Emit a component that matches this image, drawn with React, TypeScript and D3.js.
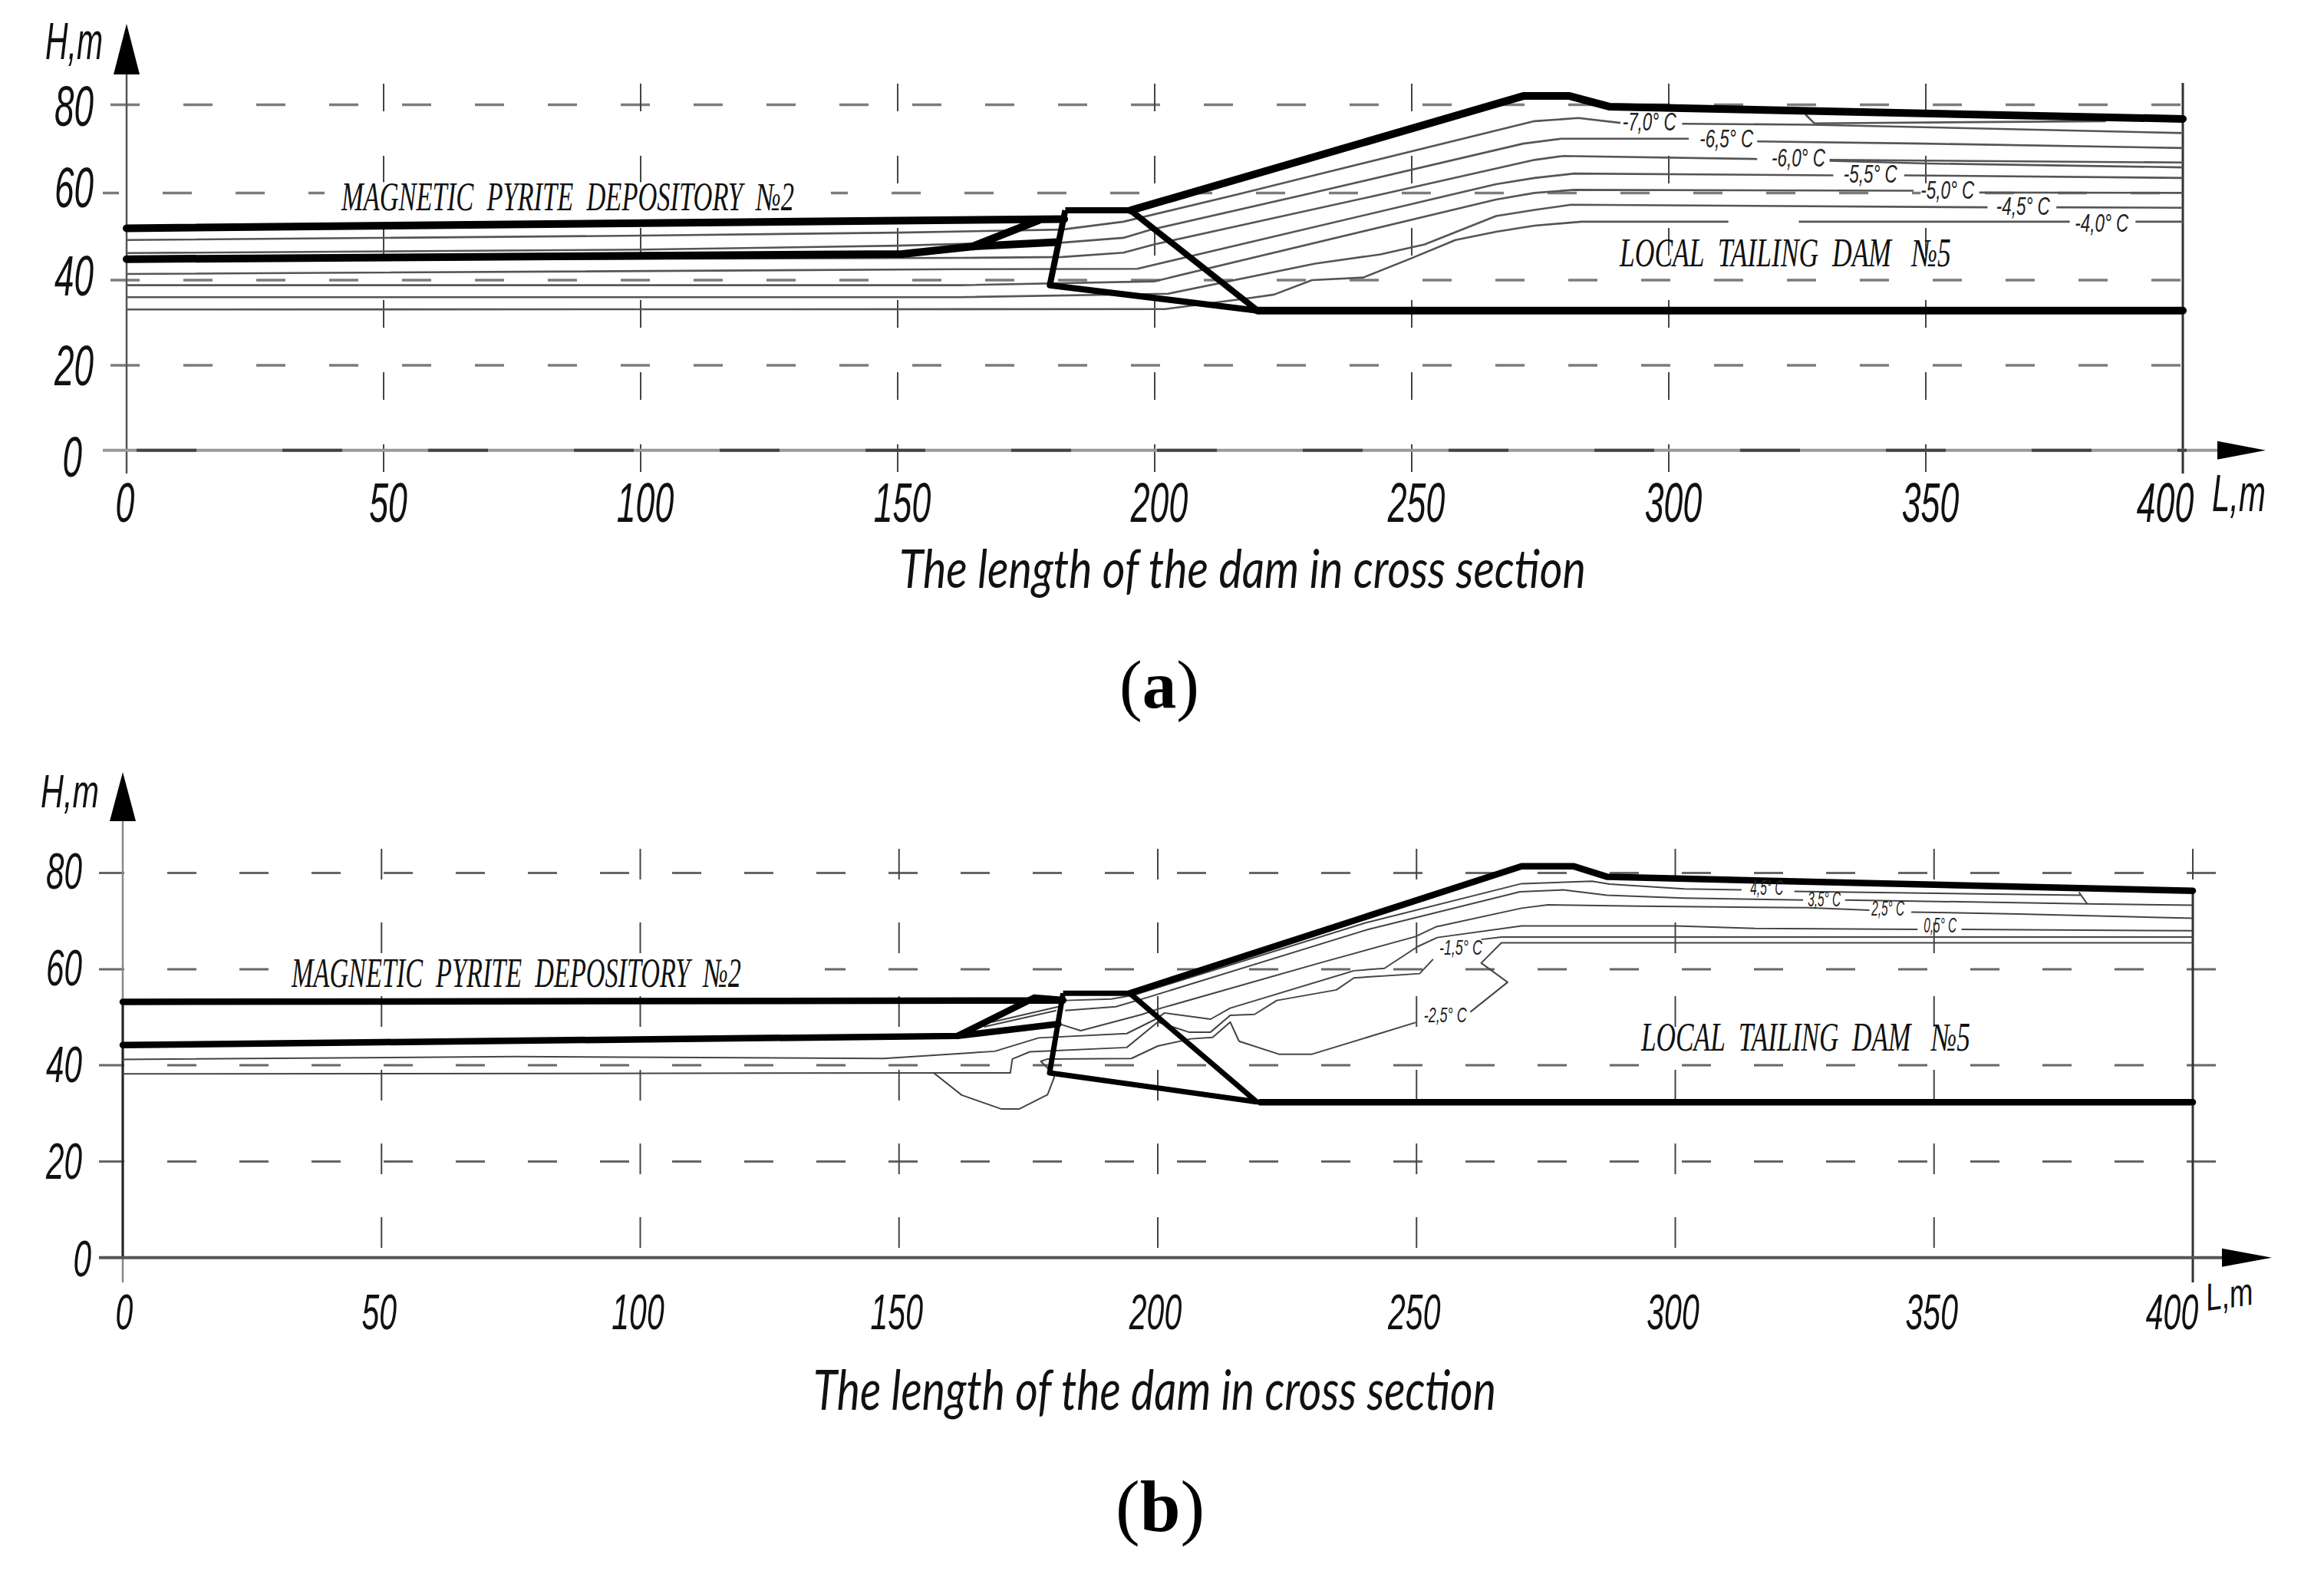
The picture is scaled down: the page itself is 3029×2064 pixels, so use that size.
import { useEffect, useRef } from 'react';
import * as d3 from 'd3';

type Pt = [number, number] | null;

const lengthTicks = [0, 50, 100, 150, 200, 250, 300, 350, 400];
const heightTicks = [0, 20, 40, 60, 80];

// ---- panel (a) ----
const outlineA: Pt[][] = [
  [[0, 51.9], [182.4, 54]],
  [[0, 44.8], [150.9, 46], [164.5, 47.7], [177.4, 53.7]],
  [[164.5, 47.7], [181, 48.7]],
  [[195.3, 56], [271.7, 82], [280.7, 82], [288.4, 79.6], [400, 76.8]],
  [[220, 32.85], [400, 32.85]],
];
const damA: Pt[] = [[182.6, 56], [195.3, 56], [220, 32.85], [179.6, 38.8], [182.6, 56]];
const isothermsA: Pt[][] = [
  [[0, 49.2], [100, 50.2], [150, 50.9], [182, 51.6], [193.9, 53.4], [216.6, 59.8], [231, 64], [273.9, 76.3], [282.4, 77], [290.6, 75.9], null, [302.6, 75.7], [327.6, 75.5], [400, 73.6]],
  [[0, 46.2], [100, 47], [150, 47.9], [165, 48.4], [182, 48.6], [193.9, 49.7], [199, 51.5], [229.9, 59.8], [271.7, 71.2], [279, 72.3], [303.9, 72.3], null, [317.2, 71.7], [349.7, 71.2], [400, 70.2]],
  [[0, 44.6], [100, 44.9], [162, 45.1], [182, 45.3], [193.9, 46.3], [199.9, 48.2], [244.6, 59.8], [273.9, 67.5], [279.5, 68.4], [317.2, 67.7], null, [331.3, 67.5], [400, 66.9]],
  [[331.3, 67.3], [350, 66.7], [400, 65.8]],
  [[0, 41.4], [162, 42.5], [196.6, 42.6], [266.4, 62], [273.9, 63.4], [281.6, 64.4], [332, 64], null, [345.8, 64], [400, 63.4]],
  [[0, 38.8], [162, 38.8], [199.9, 39.7], [266.4, 58.5], [273.9, 60], [281.6, 60.7], [347.6, 60.5], null, [360.4, 60.1], [400, 60]],
  [[0, 36], [162, 36], [202.6, 36.8], [231.2, 43.8], [243.9, 45.9], [252.5, 48.2], [266.4, 54.7], [273.9, 56.1], [281, 57.3], [362, 56.7], null, [375.4, 56.7], [400, 56.6]],
  [[0, 33.1], [202, 33.2], [218.6, 35.8], [223.2, 36.6], [230.6, 40], [240.6, 40.6], [249.9, 45], [258.5, 49.2], [266.4, 51.1], [273.9, 52.5], [283, 53.4], [311.6, 53.4], null, [325.3, 53.4], [378, 53.4], null, [390.8, 53.4], [400, 53.4]],
  [[326.6, 77.8], [328.3, 75.8], [385, 76.3]],
];
const tempLabelsA = ['-7,0° C', '-6,5° C', '-6,0° C', '-5,5° C', '-5,0° C', '-4,5° C', '-4,0° C'];
const tempAnchorsA: [number, number][] = [[291, 74.2], [306, 70.3], [320, 66], [334, 62.3], [349, 58.7], [363.7, 55], [379, 51.1]];

// ---- panel (b) ----
const outlineB: Pt[][] = [
  [[0, 53.2], [181.7, 53.5]],
  [[0, 44.2], [50, 44.8], [161.3, 46.1], [176.2, 54.1], [181.7, 53.6]],
  [[161.3, 46.1], [180.8, 48.6]],
  [[194.6, 55], [270.3, 81.4], [280.4, 81.4], [286.9, 79.2], [400, 76.3]],
  [[219.8, 32.3], [400, 32.3]],
];
const damB: Pt[] = [[181.7, 55], [194.6, 55], [219.1, 32.4], [179.1, 38.4], [181.7, 55]];
const isothermsB: Pt[][] = [
  [[168, 49], [180.8, 52.2], null, [182.1, 53.5], [191, 53.8], [195.3, 54.6], [240, 69.6], [270.3, 77.8], [283.9, 78.3], [287.3, 77.7], [301.7, 76.7], [312.8, 76.5], null, [323, 76.2], [378.3, 75.4]],
  [[378, 76], [379.6, 73.6]],
  [[166.4, 48], [180.4, 51.4], null, [182.1, 51.4], [191.9, 52.2], [197.9, 54.1], [240.4, 68.2], [270, 76.1], [278.3, 76.5], [286.8, 75.4], [301.7, 74.8], [324.7, 74.4], null, [332.8, 74.4], [379.6, 73.6], [400, 73.3]],
  [[181.3, 48.5], [185.1, 47.2], [197, 50.6], [200, 51.7], [231.9, 61.5], [249.8, 66.8], [253.7, 68.8], [270.3, 72.7], [275.4, 73.4], [293.2, 73.1], [325.6, 72.8], [337.5, 72.3], null, [345.6, 71.9], [366.4, 71.5], [400, 70.6]],
  [[0, 41.2], [75.8, 41.8], [147, 41.4], [168.5, 42.9], [177, 45.7], [194, 46.6], [199.6, 49.6], [201.3, 50.9], [210.2, 49.6], [214, 51.9], [237.9, 59.7], [243.8, 60.2], [250.2, 64.7], [254, 66.6], [270.3, 69], [300, 69], [315.4, 68.5], [346.8, 68.3], null, [355.3, 68.3], [400, 68]],
  [[0, 38.2], [171.5, 38.4], [171.9, 41.3], [175.3, 42.8], [194, 43.7], [200, 49], [206, 46.9], [210.2, 46.9], [214, 50.4], [218.7, 50.6], [223, 53.5], [234.5, 55.7], [237.9, 58.2], [250.6, 59.1], [253.2, 62.1], null, [262.5, 66.2], [266.4, 66.7], [400, 66.7]],
  [[156.6, 38.5], [162.1, 33.8], [169.8, 30.9], [173.2, 30.9], [178.7, 33.9], [180, 37.5], [179.6, 38.5], [177.4, 40.8], [178.7, 41.3], [194.9, 41.4], [200, 44], [206.4, 45.5], [210.6, 45.8], [214, 49], [215.7, 45], [223.4, 42.3], [229.8, 42.3], [249.8, 48.9], null, [260.4, 51.1], [267.6, 57.3], [262.5, 61.3], [266.4, 65.5], [400, 65.5]],
];
const tempLabelsB = ['4,5° C', '3,5° C', '2,5° C', '0,5° C', '-1,5° C', '-2,5° C'];
const tempAnchorsB: [number, number][] = [[314.5, 75.4], [325.6, 73.1], [337.9, 71.1], [348, 67.6], [254.4, 63.1], [251.4, 48.9]];

const DEPOSITORY = 'MAGNETIC  PYRITE  DEPOSITORY  №2';
const TAILING = 'LOCAL  TAILING  DAM   №5';
const X_TITLE = 'The length of the dam in cross section';

const SANS = '"Liberation Sans", sans-serif';
const SERIF = '"Liberation Serif", serif';

type Sel = d3.Selection<any, unknown, null, undefined>;

// squeeze a text to a target width, the drawing uses very narrow lettering
function put(g: Sel, text: string, x: number, y: number, size: number, opts: { w?: number; sx?: number; anchor?: string; family?: string; style?: string; rotate?: number; color?: string }) {
  const t = g.append('text')
    .attr('font-size', size)
    .attr('font-family', opts.family || SANS)
    .attr('font-style', opts.style || 'italic')
    .attr('text-anchor', opts.anchor || 'start')
    .attr('fill', opts.color || '#111')
    .style('white-space', 'pre')
    .text(text);
  const sx = opts.w ? opts.w / (t.node() as SVGTextElement).getComputedTextLength() : opts.sx || 1;
  t.attr('transform', `translate(${x},${y})${opts.rotate ? ` rotate(${opts.rotate})` : ''} scale(${sx},1)`);
  return t;
}

function drawPanel(svg: Sel, c: any) {
  const x = d3.scaleLinear().domain([0, 400]).range(c.xRange);
  const y = d3.scaleLinear().domain(heightTicks).range(c.yRange);
  const line = d3.line<any>().defined(d => d !== null).x(d => x(d[0])).y(d => y(d[1]));
  const g = svg.append('g');

  // dashed grid
  g.selectAll('.hgrid').data(heightTicks.slice(1)).enter().append('line')
    .attr('x1', c.gridLeft).attr('x2', c.gridRight)
    .attr('y1', d => y(d)).attr('y2', d => y(d))
    .attr('stroke', c.gridColor).attr('stroke-width', c.gridWidth)
    .attr('stroke-dasharray', c.hDash)
    .attr('stroke-dashoffset', d => (d === 60 && c.hOffset60 !== undefined ? c.hOffset60 : c.hOffset));
  g.selectAll('.vgrid').data(c.vGrid as number[]).enter().append('line')
    .attr('x1', d => x(d)).attr('x2', d => x(d))
    .attr('y1', c.vTop).attr('y2', c.vBottom)
    .attr('stroke', '#444').attr('stroke-width', 2)
    .attr('stroke-dasharray', c.vDash);

  // the depository label interrupts the 60 m line
  g.append('rect').attr('x', c.maskX[0]).attr('y', y(60) - 14)
    .attr('width', c.maskX[1] - c.maskX[0]).attr('height', 28).attr('fill', '#fff');

  // axes
  g.append('line').attr('x1', x(0)).attr('x2', x(0)).attr('y1', c.arrowBaseY).attr('y2', c.vBottom)
    .attr('stroke', c.yAxisColor).attr('stroke-width', 2.5);
  if (c.leftWall) {
    g.append('line').attr('x1', x(0)).attr('x2', x(0)).attr('y1', y(c.leftWall)).attr('y2', y(0))
      .attr('stroke', '#222').attr('stroke-width', 3);
  }
  g.append('line').attr('x1', x(400)).attr('x2', x(400)).attr('y1', y(c.rightWall)).attr('y2', c.vBottom)
    .attr('stroke', '#333').attr('stroke-width', 3);
  g.append('line').attr('x1', c.gridLeft).attr('x2', c.xArrowBase).attr('y1', y(0)).attr('y2', y(0))
    .attr('stroke', c.xAxisColor).attr('stroke-width', 4);
  if (c.axisDash) {
    g.append('line').attr('x1', x(0) + 13).attr('x2', c.xArrowBase - 40).attr('y1', y(0)).attr('y2', y(0))
      .attr('stroke', '#444').attr('stroke-width', 4).attr('stroke-dasharray', c.axisDash);
  }
  const ax = x(0);
  const ay = y(0);
  g.append('path').attr('fill', '#000')
    .attr('d', `M${ax},${c.arrowTipY}L${ax + c.arrowHalf},${c.arrowBaseY}L${ax - c.arrowHalf},${c.arrowBaseY}Z`);
  g.append('path').attr('fill', '#000')
    .attr('d', `M${c.xArrowTip},${ay}L${c.xArrowBase},${ay - c.arrowHalf + 5}L${c.xArrowBase},${ay + c.arrowHalf - 5}Z`);

  // isotherms below the dam outline
  c.isotherms.forEach((pts: Pt[]) => {
    g.append('path').attr('d', line(pts)).attr('fill', 'none')
      .attr('stroke', c.isoColor).attr('stroke-width', c.isoWidth).attr('stroke-linejoin', 'round');
  });

  c.outline.forEach((pts: Pt[]) => {
    g.append('path').attr('d', line(pts)).attr('fill', 'none')
      .attr('stroke', '#000').attr('stroke-width', c.thick).attr('stroke-linejoin', 'round').attr('stroke-linecap', 'round');
  });
  g.append('path').attr('d', line(c.dam)).attr('fill', 'none')
    .attr('stroke', '#000').attr('stroke-width', c.damWidth).attr('stroke-linejoin', 'round');

  // tick labels
  heightTicks.forEach((h, i) => {
    put(g, String(h), h === 0 ? c.yLabelZeroX : c.yLabelX, y(h) + c.yLabelDy[i], c.tickSize, { sx: c.tickSx, anchor: 'end' });
  });
  lengthTicks.forEach(l => {
    const off = l === 0 ? c.xLabelOff0 : l === 400 ? c.xLabelOff400 : c.xLabelOff;
    put(g, String(l), x(l) + off, c.xLabelY, c.xTickSize, { sx: c.xTickSx, anchor: 'middle' });
  });
  put(g, 'H,m', c.hLabel[0], c.hLabel[1], c.hLabel[2], { w: c.hLabel[3] });
  put(g, 'L,m', c.lLabel[0], c.lLabel[1], c.lLabel[2], { w: c.lLabel[3], rotate: c.lLabel[4] });
  put(g, X_TITLE, c.title[0], c.title[1], c.title[2], { w: c.title[3], family: 'Lato, sans-serif' });

  put(g, DEPOSITORY, c.depo[0], c.depo[1], c.depo[2], { w: c.depo[3], family: SERIF });
  put(g, TAILING, c.tail[0], c.tail[1], c.tail[2], { w: c.tail[3], family: SERIF });

  c.tempLabels.forEach((s: string, i: number) => {
    const [l, h] = c.tempAnchors[i];
    const w = s.startsWith('-') ? c.tempW : c.tempW2;
    if (c.tempMask) {
      g.append('rect').attr('x', x(l)).attr('y', y(h) - 20).attr('width', w).attr('height', 18).attr('fill', '#fff');
    }
    put(g, s, x(l), y(h), c.tempSize, { w, color: '#222' });
  });

  // panel letter
  const letter = g.append('text').attr('x', c.letter[0]).attr('y', c.letter[1]).attr('font-size', c.letter[2])
    .attr('font-family', SERIF).attr('fill', '#000');
  letter.append('tspan').text('(');
  letter.append('tspan').attr('font-weight', 'bold').text(c.letter[3]);
  letter.append('tspan').text(')');
}

export default function App() {
  const svgRef = useRef<SVGSVGElement>(null);

  useEffect(() => {
    if (!svgRef.current) return;
    const svg = d3.select(svgRef.current) as unknown as Sel;
    svg.selectAll('*').remove();

    drawPanel(svg, {
      xRange: [165, 2845],
      yRange: [586.7, 476, 365, 251.4, 136.6],
      gridLeft: 134, gridRight: 2845, gridColor: '#7c7c7c', gridWidth: 3.5,
      hDash: '38 57', hOffset: 85, hOffset60: 17,
      vGrid: [50, 100, 150, 200, 250, 300, 350], vTop: 109, vBottom: 617, vDash: '36 58',
      maskX: [423, 1083],
      yAxisColor: '#555', xAxisColor: '#999', axisDash: '78 112',
      rightWall: 85,
      arrowTipY: 31, arrowBaseY: 97, arrowHalf: 17, xArrowTip: 2953, xArrowBase: 2890,
      isotherms: isothermsA, outline: outlineA, dam: damA,
      isoColor: '#555', isoWidth: 2.6, thick: 10, damWidth: 8,
      tickSize: 74, tickSx: 0.62, yLabelX: 122, yLabelZeroX: 107, yLabelDy: [34, 26, 20, 19, 27],
      xTickSize: 72, xTickSx: 0.62, xLabelY: 680, xLabelOff: 6, xLabelOff0: -2, xLabelOff400: -23,
      hLabel: [59, 77, 68, 75], lLabel: [2883, 666, 68, 70, 0],
      title: [1172, 766, 70, 895],
      depo: [445, 274, 52, 590], tail: [2111, 347, 52, 432],
      tempLabels: tempLabelsA, tempAnchors: tempAnchorsA, tempSize: 33, tempW: 70, tempW2: 70, tempMask: true,
      letter: [1459, 922, 89, 'a'],
    });

    drawPanel(svg, {
      xRange: [160, 2858],
      yRange: [1638.8, 1513.5, 1388, 1263, 1137.6],
      gridLeft: 129, gridRight: 2889, gridColor: '#666', gridWidth: 3,
      hDash: '38 56', hOffset: 5,
      vGrid: [50, 100, 150, 200, 250, 300, 350, 400], vTop: 1106, vBottom: 1671, vDash: '40 56',
      maskX: [356, 1075],
      yAxisColor: '#888', xAxisColor: '#555',
      leftWall: 53.2, rightWall: 76.3,
      arrowTipY: 1006, arrowBaseY: 1070, arrowHalf: 17, xArrowTip: 2961, xArrowBase: 2896,
      isotherms: isothermsB, outline: outlineB, dam: damB,
      isoColor: '#444', isoWidth: 2, thick: 8.5, damWidth: 7,
      tickSize: 66, tickSx: 0.64, yLabelX: 107, yLabelZeroX: 119, yLabelDy: [24, 22, 22, 21, 20],
      xTickSize: 64, xTickSx: 0.64, xLabelY: 1732, xLabelOff: -3, xLabelOff0: 2, xLabelOff400: -27,
      hLabel: [53, 1052, 62, 76], lLabel: [2877, 1708, 50, 62, -8],
      title: [1060, 1837, 72, 890],
      depo: [380, 1286, 54, 586], tail: [2139, 1369, 52, 429],
      tempLabels: tempLabelsB, tempAnchors: tempAnchorsB, tempSize: 28, tempW: 56, tempW2: 43,
      letter: [1454, 1995, 95, 'b'],
    });
  }, []);

  return (
    <svg
      ref={svgRef}
      width={3029}
      height={2064}
      style={{ position: 'absolute', left: 0, top: 0, background: '#fff', display: 'block' }}
    />
  );
}
